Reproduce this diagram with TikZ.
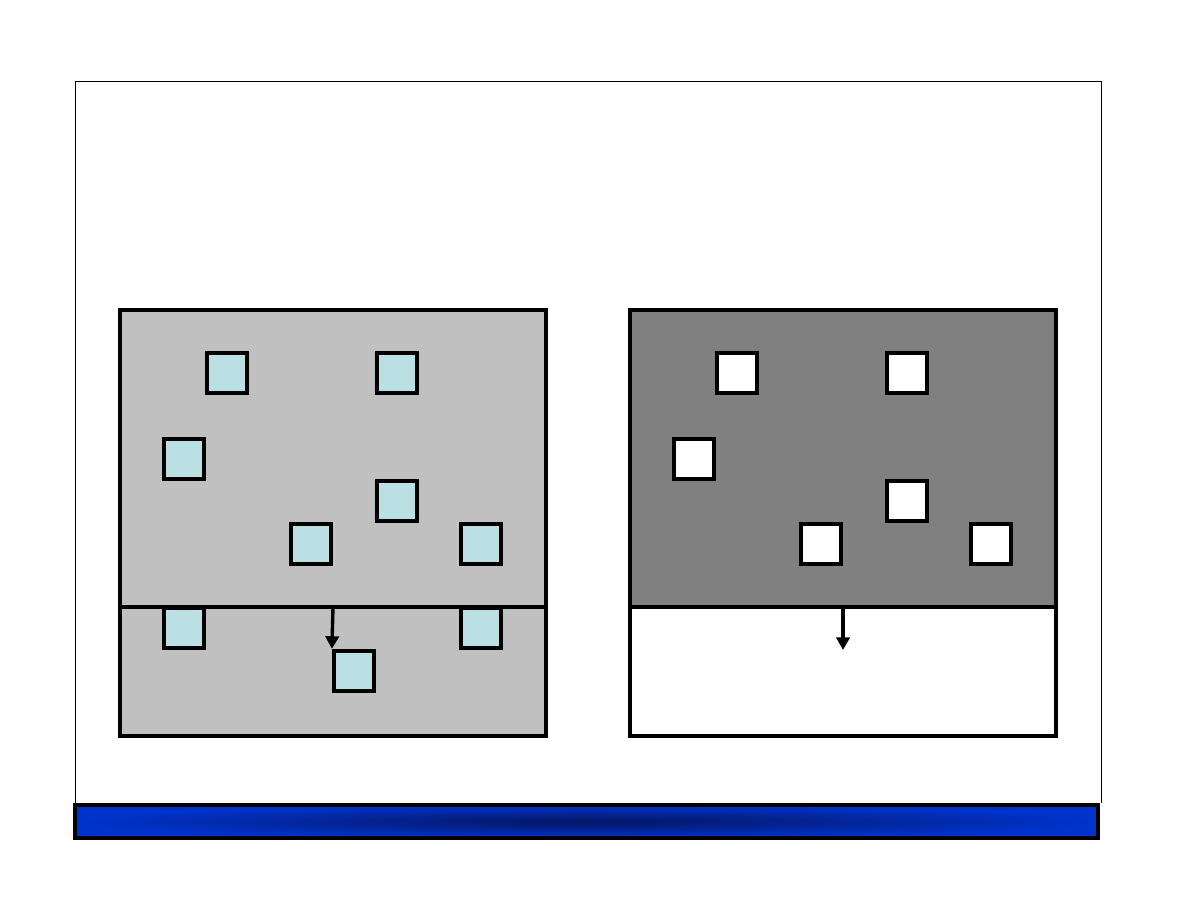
\documentclass[tikz,border=0pt]{standalone}
\usetikzlibrary{arrows.meta,positioning}
\definecolor{pale}{RGB}{192,192,192}
\definecolor{slate}{RGB}{128,128,128}
\definecolor{ice}{RGB}{187,224,227}
\definecolor{royal}{RGB}{0,51,204}
\definecolor{navy}{RGB}{5,22,100}
\tikzset{
  >={Triangle[length=9pt,width=9.5pt]},
  panel/.style={draw=black,line width=2.8pt,fill=#1},
  panel/.default=pale,
  cell/.style={draw=black,line width=3pt,fill=#1,minimum size=1.0cm,inner sep=0pt},
  cell/.default=ice,
  drop/.style={->,line width=2.4pt},
}
\begin{document}
\begin{tikzpicture}[x=0.025cm,y=-0.025cm]
  \useasboundingbox (0,0) rectangle (1188,918);
  % slide frame
  \draw[line width=0.7pt] (75.5,803) -- (75.5,81.5) -- (1101.5,81.5) -- (1101.5,803);
  % left panel
  \draw[panel] (120,310) rectangle (546,607);
  \draw[panel] (120,607) rectangle (546,736);
  % right panel
  \draw[panel=slate] (630,310) rectangle (1056,607);
  \draw[panel=white] (630,607) rectangle (1056,736);
  % squares
  \foreach \n/\x/\y in {a/227/373,b/397/373,c/184/459,d/397/501,e/311/544,f/481/544}
  {
    \node[cell] (l\n) at (\x,\y) {};
    \node[cell=white] (r\n) at (\x+510,\y) {};
  }
  \node[cell] (lg) at (184,628) {};
  \node[cell] (lh) at (481,628) {};
  \node[cell] (li) at (354,671) {};
  % arrows
  \coordinate (lsrc) at (333,607);
  \coordinate (rsrc) at (843,607);
  \coordinate (rend) at (843,650);
  \draw[drop] (lsrc) -- (li.north west);
  \draw[drop] (rsrc) -- (rend);
  % bottom bar
  \shade[inner color=navy,outer color=royal] (75,805) rectangle (1098,838);
  \draw[line width=2.8pt] (75,805) rectangle (1098,838);
\end{tikzpicture}
\end{document}
